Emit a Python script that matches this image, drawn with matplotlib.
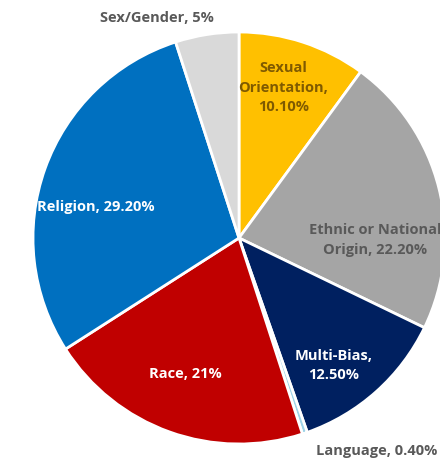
import numpy as np
import matplotlib.pyplot as plt

# data, clockwise from 12 o'clock
categories = ["Sexual\nOrientation,", "Ethnic or National\nOrigin,", "Multi-Bias,",
              "Language,", "Race,", "Religion,", "Sex/Gender,"]
values = [10.1, 22.2, 12.5, 0.4, 21.0, 29.2, 5.0]
value_labels = ["10.10%", "22.20%", "12.50%", "0.40%", "21%", "29.20%", "5%"]

colors = ["#FFC000", "#A5A5A5", "#002060", "#9DD3E8", "#C00000", "#0070C0", "#D9D9D9"]
text_colors = ["#7F5A00", "#595959", "#FFFFFF", "#595959", "#FFFFFF", "#FFFFFF", "#595959"]
# how the value joins the category name
joiners = ["\n", " ", "\n", " ", " ", " ", " "]

# label placement: (angle in degrees, distance as fraction of radius)
label_pos = [(73.6, 0.76), (-0.8, 0.66), (-53.5, 0.77), (-57.0, 1.23),
             (-111.5, 0.71), (167.8, 0.71), (110.4, 1.14)]

W, H = 440, 458
fig = plt.figure(figsize=(W / 100, H / 100), dpi=100)
ax = fig.add_axes([0, 0, 1, 1])

cx, cy, R = 239, 220, 206
ax.pie(values, colors=colors, startangle=90, counterclock=False,
       center=(cx, cy), radius=R, frame=True,
       wedgeprops=dict(edgecolor="white", linewidth=2))
ax.set_xlim(0, W)
ax.set_ylim(0, H)
ax.set_aspect("equal")
ax.axis("off")

for cat, val, j, tc, (ang, dist) in zip(categories, value_labels, joiners,
                                        text_colors, label_pos):
    a = np.deg2rad(ang)
    x = cx + dist * R * np.cos(a)
    y = cy + dist * R * np.sin(a)
    ax.text(x, y, cat + j + val, ha="center", va="center", color=tc, fontsize=10.5,
            fontweight="bold", family="Open Sans", linespacing=1.5, clip_on=True)

fig.savefig("out.png", dpi=100)
